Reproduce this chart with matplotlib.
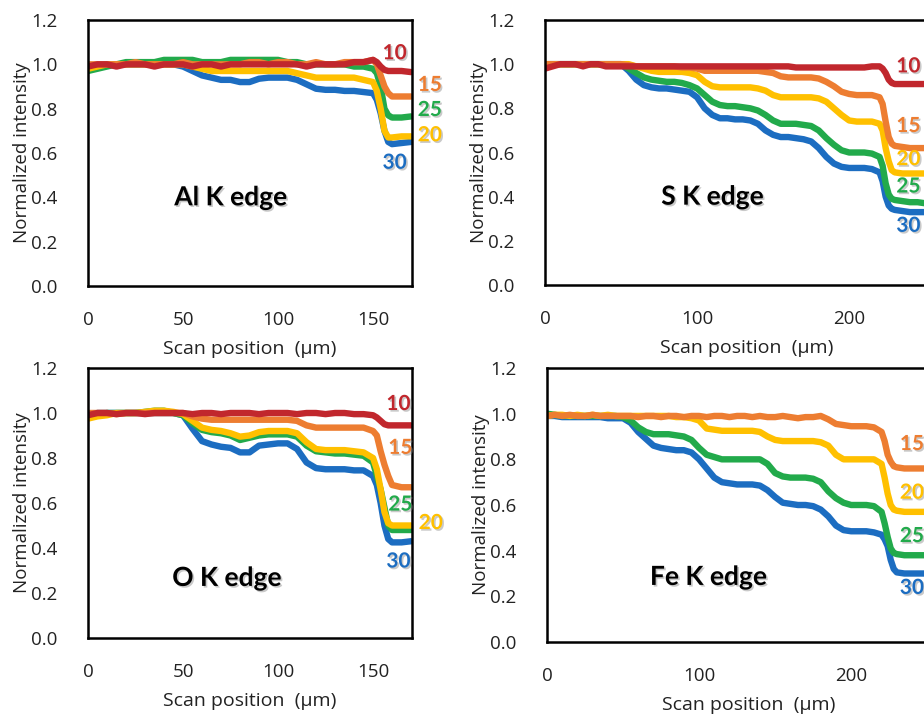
import matplotlib
matplotlib.use("Agg")
import matplotlib.pyplot as plt
import matplotlib.patheffects as pe

plt.rcParams['font.family'] = ['Open Sans', 'DejaVu Sans']

# ---------------- data ----------------
# Scan positions (µm) for the Al and O panels
pos_short = [0, 5, 10, 15, 20, 25, 30, 35, 40, 45, 50, 55, 60, 65, 70, 75, 80, 85, 90, 95,
             100, 105, 110, 115, 120, 125, 130, 135, 140, 145, 150, 152, 154, 156, 158, 160, 165, 170]
# Scan positions (µm) for the S and Fe panels
pos_long = [0, 5, 10, 15, 20, 25, 30, 35, 40, 45, 50, 55, 60, 65, 70, 75, 80, 85, 90, 95,
            100, 105, 110, 115, 120, 125, 130, 135, 140, 145, 150, 155, 160, 165, 170, 175, 180,
            185, 190, 195, 200, 205, 210, 215, 220, 222, 224, 226, 228, 230, 235, 240, 245, 250, 255]

# Al K edge
al_10 = [0.99, 1.0, 1.0, 0.99, 1.0, 1.0, 1.0, 0.99, 1.0, 1.0, 1.0, 0.99, 1.0, 1.0, 0.99, 1.0, 1.0, 1.0, 1.0, 1.0,
         1.0, 1.0, 1.0, 0.99, 1.0, 1.0, 1.0, 1.0, 1.01, 1.01, 1.02, 1.01, 0.99, 0.975, 0.97, 0.97, 0.97, 0.965]
al_15 = [1.0, 1.0, 1.0, 1.0, 1.0, 1.01, 1.0, 1.0, 1.0, 1.0, 1.01, 1.0, 1.0, 1.0, 1.0, 1.0, 1.0, 1.01, 1.01, 1.0,
         1.01, 1.01, 1.0, 1.0, 1.01, 1.0, 1.0, 1.01, 1.01, 1.01, 1.02, 1.0, 0.95, 0.90, 0.87, 0.855, 0.855, 0.855]
al_20 = [0.98, 0.99, 1.0, 1.0, 1.0, 1.0, 1.0, 1.0, 1.0, 1.0, 1.0, 0.99, 0.98, 0.97, 0.97, 0.97, 0.97, 0.97, 0.97, 0.97,
         0.97, 0.97, 0.96, 0.95, 0.94, 0.94, 0.94, 0.94, 0.94, 0.93, 0.92, 0.88, 0.80, 0.70, 0.67, 0.67, 0.675, 0.675]
al_25 = [0.97, 0.98, 0.99, 1.0, 1.01, 1.01, 1.01, 1.01, 1.02, 1.02, 1.02, 1.02, 1.01, 1.01, 1.01, 1.02, 1.02, 1.02, 1.02, 1.02,
         1.02, 1.01, 1.01, 1.0, 1.0, 1.0, 1.0, 1.0, 0.99, 0.99, 0.98, 0.96, 0.90, 0.80, 0.77, 0.76, 0.76, 0.765]
al_30 = [0.98, 0.99, 1.0, 1.0, 1.0, 1.0, 1.0, 1.0, 1.0, 1.0, 0.99, 0.97, 0.95, 0.94, 0.93, 0.93, 0.92, 0.92, 0.935, 0.94,
         0.94, 0.94, 0.93, 0.91, 0.89, 0.885, 0.885, 0.88, 0.88, 0.875, 0.87, 0.84, 0.78, 0.70, 0.65, 0.64, 0.645, 0.65]

# O K edge
o_10 = [0.99, 1.0, 1.0, 0.995, 1.0, 1.0, 0.995, 1.0, 1.0, 1.0, 1.0, 0.995, 1.0, 1.0, 0.995, 1.0, 1.0, 1.0, 0.995, 1.0,
        1.0, 1.0, 0.995, 1.0, 1.0, 0.995, 1.0, 1.0, 0.995, 0.995, 0.99, 0.98, 0.965, 0.95, 0.945, 0.945, 0.945, 0.945]
o_15 = [1.0, 1.0, 1.0, 0.995, 1.0, 1.0, 1.0, 1.0, 1.0, 1.0, 1.0, 0.985, 0.975, 0.97, 0.97, 0.97, 0.97, 0.97, 0.97, 0.97,
        0.97, 0.97, 0.965, 0.945, 0.935, 0.935, 0.935, 0.935, 0.935, 0.935, 0.92, 0.90, 0.83, 0.77, 0.72, 0.68, 0.67, 0.67]
o_20 = [0.975, 0.985, 0.99, 1.0, 1.0, 1.0, 1.005, 1.01, 1.01, 1.005, 0.995, 0.965, 0.935, 0.925, 0.92, 0.91, 0.895, 0.90, 0.915, 0.92,
        0.92, 0.92, 0.91, 0.87, 0.84, 0.835, 0.835, 0.835, 0.83, 0.825, 0.80, 0.75, 0.66, 0.56, 0.51, 0.50, 0.50, 0.50]
o_25 = [0.98, 0.99, 1.0, 1.0, 1.0, 1.0, 1.005, 1.01, 1.01, 1.0, 0.99, 0.955, 0.925, 0.915, 0.91, 0.90, 0.88, 0.89, 0.90, 0.905,
        0.905, 0.905, 0.895, 0.855, 0.83, 0.825, 0.82, 0.82, 0.815, 0.81, 0.78, 0.72, 0.66, 0.58, 0.50, 0.48, 0.48, 0.48]
o_30 = [0.99, 1.0, 1.0, 1.0, 1.0, 1.0, 1.0, 1.0, 1.0, 1.0, 0.99, 0.93, 0.875, 0.86, 0.85, 0.845, 0.825, 0.825, 0.855, 0.86,
        0.865, 0.865, 0.84, 0.78, 0.755, 0.75, 0.75, 0.75, 0.745, 0.745, 0.72, 0.68, 0.60, 0.50, 0.44, 0.425, 0.425, 0.43]

# S K edge
s_10 = [0.98, 0.99, 1.0, 1.0, 1.0, 0.99, 1.0, 1.0, 0.99, 0.99, 0.99, 0.99, 0.99, 0.99, 0.99, 0.99, 0.99, 0.99, 0.99, 0.99,
        0.99, 0.99, 0.99, 0.99, 0.99, 0.99, 0.99, 0.99, 0.99, 0.99, 0.99, 0.99, 0.99, 0.985, 0.985, 0.985, 0.985,
        0.985, 0.985, 0.985, 0.985, 0.985, 0.985, 0.99, 0.99, 0.98, 0.96, 0.93, 0.915, 0.91, 0.91, 0.91, 0.91, 0.91, 0.91]
s_15 = [1.0, 1.0, 1.0, 1.0, 1.0, 1.0, 1.0, 1.0, 1.0, 1.0, 1.0, 0.995, 0.99, 0.99, 0.99, 0.99, 0.99, 0.99, 0.985, 0.985,
        0.98, 0.97, 0.97, 0.97, 0.97, 0.97, 0.97, 0.97, 0.97, 0.965, 0.96, 0.945, 0.94, 0.94, 0.94, 0.94, 0.935,
        0.92, 0.90, 0.875, 0.865, 0.86, 0.86, 0.86, 0.85, 0.82, 0.74, 0.67, 0.64, 0.63, 0.625, 0.62, 0.62, 0.62, 0.62]
s_20 = [1.0, 1.0, 1.0, 1.0, 1.0, 1.0, 1.0, 1.0, 1.0, 1.0, 1.0, 1.0, 0.99, 0.98, 0.97, 0.965, 0.965, 0.965, 0.965, 0.96,
        0.95, 0.92, 0.90, 0.895, 0.895, 0.895, 0.895, 0.895, 0.89, 0.88, 0.86, 0.85, 0.85, 0.85, 0.85, 0.85, 0.845,
        0.83, 0.80, 0.77, 0.745, 0.74, 0.74, 0.74, 0.73, 0.70, 0.62, 0.56, 0.52, 0.51, 0.505, 0.505, 0.505, 0.505, 0.505]
s_25 = [1.0, 1.0, 1.0, 1.0, 1.0, 1.0, 1.0, 1.0, 1.0, 1.0, 1.0, 0.98, 0.96, 0.94, 0.93, 0.925, 0.92, 0.92, 0.915, 0.905,
        0.89, 0.86, 0.83, 0.815, 0.81, 0.81, 0.805, 0.80, 0.79, 0.77, 0.745, 0.73, 0.73, 0.73, 0.725, 0.72, 0.70,
        0.665, 0.635, 0.61, 0.60, 0.60, 0.60, 0.595, 0.58, 0.54, 0.46, 0.41, 0.39, 0.385, 0.38, 0.375, 0.375, 0.37, 0.37]
s_30 = [1.0, 1.0, 1.0, 1.0, 1.0, 1.0, 1.0, 1.0, 1.0, 1.0, 1.0, 0.97, 0.93, 0.905, 0.895, 0.89, 0.89, 0.885, 0.88, 0.875,
        0.85, 0.80, 0.77, 0.755, 0.755, 0.75, 0.75, 0.745, 0.73, 0.70, 0.68, 0.67, 0.67, 0.665, 0.66, 0.65, 0.62,
        0.58, 0.55, 0.535, 0.53, 0.53, 0.53, 0.525, 0.51, 0.47, 0.40, 0.36, 0.345, 0.34, 0.335, 0.33, 0.33, 0.33, 0.33]

# Fe K edge
fe_15 = [0.99, 0.995, 0.99, 0.995, 0.99, 0.99, 0.995, 0.99, 0.99, 0.99, 0.99, 0.99, 0.985, 0.99, 0.99, 0.985, 0.99, 0.99, 0.985, 0.99,
         0.99, 0.985, 0.99, 0.99, 0.985, 0.99, 0.99, 0.985, 0.99, 0.985, 0.985, 0.99, 0.985, 0.98, 0.985, 0.985, 0.99,
         0.975, 0.955, 0.95, 0.945, 0.945, 0.945, 0.94, 0.92, 0.88, 0.82, 0.79, 0.77, 0.765, 0.76, 0.76, 0.76, 0.76, 0.76]
fe_20 = [0.99, 0.995, 0.995, 0.99, 0.995, 0.99, 0.995, 0.99, 0.995, 0.99, 0.99, 0.99, 0.99, 0.99, 0.99, 0.99, 0.99, 0.985, 0.985, 0.98,
         0.97, 0.935, 0.93, 0.925, 0.925, 0.925, 0.925, 0.925, 0.92, 0.90, 0.885, 0.88, 0.88, 0.88, 0.88, 0.88, 0.875,
         0.86, 0.82, 0.80, 0.80, 0.80, 0.80, 0.80, 0.78, 0.72, 0.65, 0.60, 0.58, 0.575, 0.57, 0.57, 0.57, 0.57, 0.57]
fe_25 = [1.0, 0.995, 0.99, 0.99, 0.99, 0.99, 0.99, 0.99, 0.99, 0.99, 0.985, 0.97, 0.94, 0.92, 0.91, 0.91, 0.91, 0.905, 0.90, 0.885,
         0.85, 0.82, 0.81, 0.80, 0.80, 0.80, 0.80, 0.80, 0.80, 0.78, 0.74, 0.725, 0.72, 0.72, 0.72, 0.715, 0.70,
         0.66, 0.63, 0.61, 0.60, 0.60, 0.60, 0.595, 0.57, 0.52, 0.46, 0.41, 0.39, 0.385, 0.38, 0.38, 0.38, 0.38, 0.38]
fe_30 = [0.99, 0.99, 0.985, 0.985, 0.985, 0.985, 0.985, 0.985, 0.98, 0.98, 0.98, 0.96, 0.92, 0.89, 0.86, 0.85, 0.845, 0.84, 0.84, 0.83,
         0.80, 0.76, 0.72, 0.70, 0.695, 0.69, 0.69, 0.69, 0.685, 0.665, 0.635, 0.61, 0.605, 0.60, 0.60, 0.595, 0.58,
         0.55, 0.51, 0.49, 0.485, 0.485, 0.485, 0.48, 0.47, 0.45, 0.42, 0.36, 0.32, 0.305, 0.30, 0.30, 0.30, 0.30, 0.30]

series_names = ['30', '25', '20', '15', '10']
colors = {'10': '#C1272D', '15': '#ED7D31', '20': '#FFC000', '25': '#22AA4B', '30': '#1C6DC1'}

panels = [
    dict(title='Al K edge', x=pos_short, series={'30': al_30, '20': al_20, '25': al_25, '15': al_15, '10': al_10},
         xlim=(0, 170.5), xticks=[0, 50, 100, 150], rect=[88, 20, 412, 286], title_xy=(75, 0.40),
         labels={'10': (155, 1.05), '15': (173.5, 0.907), '25': (173.5, 0.794), '20': (173.5, 0.68), '30': (155, 0.556)}),
    dict(title='S K edge', x=pos_long, series={'30': s_30, '25': s_25, '20': s_20, '15': s_15, '10': s_10},
         xlim=(0, 265), xticks=[0, 100, 200], rect=[545, 20, 948, 285], title_xy=(110, 0.40),
         labels={'10': (231, 0.99), '15': (231, 0.72), '20': (231, 0.57), '25': (231, 0.446), '30': (231, 0.268)}),
    dict(title='O K edge', x=pos_short, series={'30': o_30, '25': o_25, '20': o_20, '15': o_15, '10': o_10},
         xlim=(0, 170.5), xticks=[0, 50, 100, 150], rect=[88, 368, 412, 638], title_xy=(73, 0.267),
         labels={'10': (157, 1.04), '15': (158, 0.845), '25': (158, 0.593), '20': (174, 0.511), '30': (157, 0.34)}),
    dict(title='Fe K edge', x=pos_long, series={'30': fe_30, '25': fe_25, '20': fe_20, '15': fe_15},
         xlim=(0, 265), xticks=[0, 100, 200], rect=[547, 368, 950, 642], title_xy=(106, 0.285),
         labels={'15': (232, 0.867), '20': (232, 0.654), '25': (232, 0.464), '30': (232, 0.237)}),
]

W, H = 924, 715
fig = plt.figure(figsize=(W / 100, H / 100), dpi=100)
shadow = [pe.SimplePatchShadow(offset=(1.2, -1.2), shadow_rgbFace='#888888', alpha=0.45), pe.Normal()]
bold_font = ['Lato', 'DejaVu Sans']

for p in panels:
    l, t, r, b = p['rect']
    ax = fig.add_axes([l / W, (H - b) / H, (r - l) / W, (b - t) / H])
    for name in series_names:
        if name in p['series']:
            ax.plot(p['x'], p['series'][name], color=colors[name], lw=4.6,
                    solid_capstyle='round', solid_joinstyle='round', zorder=2)
    ax.set_xlim(*p['xlim'])
    ax.set_ylim(0, 1.2)
    ax.set_xticks(p['xticks'])
    ax.set_yticks([0, 0.2, 0.4, 0.6, 0.8, 1.0, 1.2])
    ax.set_yticklabels(['0.0', '0.2', '0.4', '0.6', '0.8', '1.0', '1.2'])
    ax.tick_params(axis='both', length=0, labelsize=13.5, colors='#222222')
    ax.tick_params(axis='x', pad=18)
    ax.tick_params(axis='y', pad=22)
    for s in ax.spines.values():
        s.set_linewidth(1.8)
        s.set_color('black')
    ax.set_xlabel('Scan position  (µm)', fontsize=14, color='#222222', labelpad=8)
    ax.set_ylabel('Normalized intensity', fontsize=13.5, color='#222222', labelpad=0)
    ax.text(p['title_xy'][0], p['title_xy'][1], p['title'], fontsize=19, fontweight='bold',
            ha='center', va='center', color='black', path_effects=shadow, family=bold_font)
    for name, (lx, ly) in p['labels'].items():
        ax.text(lx, ly, name, fontsize=15, fontweight='bold', color=colors[name], family=bold_font,
                ha='left', va='center', path_effects=shadow, clip_on=False)

fig.savefig('out.png', dpi=100)
